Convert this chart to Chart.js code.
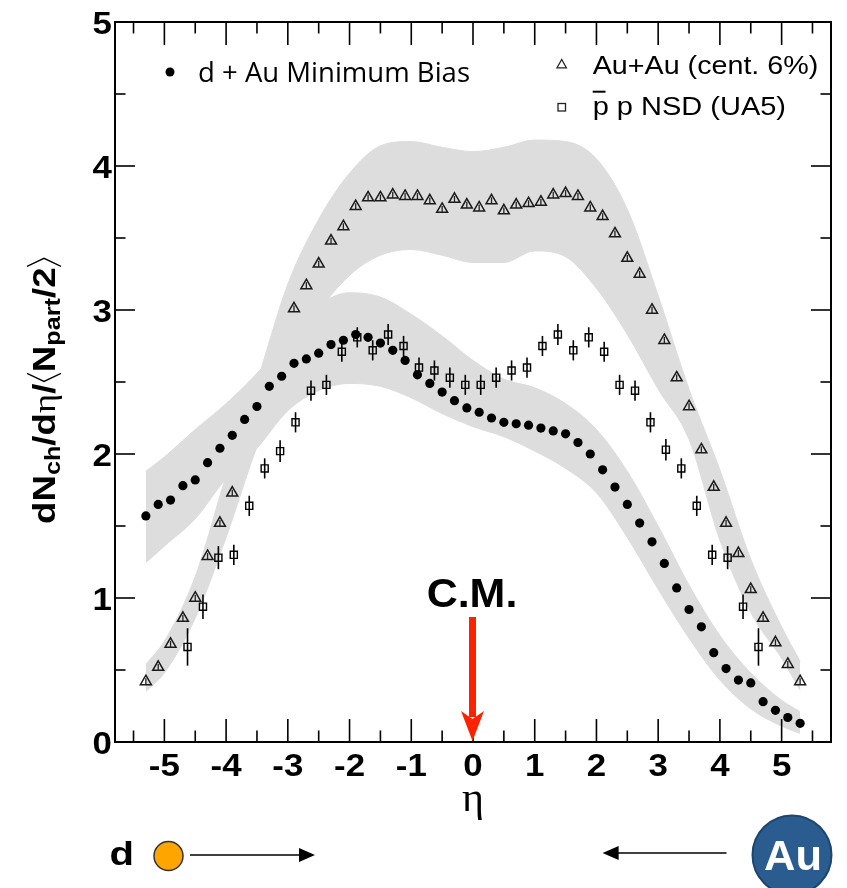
<!DOCTYPE html>
<html>
<head>
<meta charset="utf-8">
<title>dNch/deta per participant pair</title>
<script src="https://cdn.jsdelivr.net/npm/chart.js@4.4.0/dist/chart.umd.min.js"></script>
<style>
  html, body { margin: 0; padding: 0; background: #fff; }
  #wrap { width: 847px; height: 888px; }
</style>
</head>
<body>
<div id="wrap"><canvas id="c" width="847" height="888"></canvas></div>
<script>
// axis ticks
const etaTicks = [-5, -4, -3, -2, -1, 0, 1, 2, 3, 4, 5];
const etaMinor = [-5.5, -4.5, -3.5, -2.5, -1.5, -0.5, 0.5, 1.5, 2.5, 3.5, 4.5, 5.5];
const yTicks = [0, 1, 2, 3, 4, 5];
const yMinor = [0.5, 1.5, 2.5, 3.5, 4.5];

// d+Au minimum bias and Au+Au 6% share the same eta bins
const etaBins = [-5.3, -5.1, -4.9, -4.7, -4.5, -4.3, -4.1, -3.9, -3.7, -3.5, -3.3, -3.1, -2.9, -2.7,
  -2.5, -2.3, -2.1, -1.9, -1.7, -1.5, -1.3, -1.1, -0.9, -0.7, -0.5, -0.3, -0.1, 0.1, 0.3, 0.5, 0.7,
  0.9, 1.1, 1.3, 1.5, 1.7, 1.9, 2.1, 2.3, 2.5, 2.7, 2.9, 3.1, 3.3, 3.5, 3.7, 3.9, 4.1, 4.3, 4.5,
  4.7, 4.9, 5.1, 5.3];
const dAuVals = [1.57, 1.65, 1.68, 1.78, 1.82, 1.94, 2.04, 2.13, 2.24, 2.33, 2.47, 2.54, 2.63, 2.66,
  2.70, 2.76, 2.79, 2.83, 2.81, 2.77, 2.72, 2.65, 2.55, 2.49, 2.43, 2.37, 2.32, 2.29, 2.25, 2.22, 2.21,
  2.20, 2.18, 2.16, 2.14, 2.08, 2.00, 1.89, 1.77, 1.65, 1.52, 1.39, 1.24, 1.07, 0.92, 0.80, 0.62, 0.51,
  0.43, 0.41, 0.28, 0.22, 0.17, 0.13];
const auAuVals = [0.42, 0.52, 0.68, 0.86, 1.00, 1.29, 1.52, 1.73, null, null, null, null, 3.01, 3.17,
  3.32, 3.48, 3.58, 3.72, 3.78, 3.78, 3.80, 3.79, 3.79, 3.76, 3.70, 3.77, 3.73, 3.71, 3.76, 3.69, 3.73,
  3.74, 3.75, 3.80, 3.81, 3.79, 3.71, 3.65, 3.53, 3.36, 3.25, 3.00, 2.79, 2.53, 2.33, 2.03, 1.77, 1.52,
  1.31, 1.06, 0.86, 0.69, 0.54, 0.42];
const auAuErr = 0.022;

// UA5 pbar-p NSD
const ua5Eta = [-4.625, -4.375, -4.125, -3.875, -3.625, -3.375, -3.125, -2.875, -2.625, -2.375, -2.125,
  -1.875, -1.625, -1.375, -1.125, -0.875, -0.625, -0.375, -0.125, 0.125, 0.375, 0.625, 0.875, 1.125,
  1.375, 1.625, 1.875, 2.125, 2.375, 2.625, 2.875, 3.125, 3.375, 3.625, 3.875, 4.125, 4.375, 4.625];
const ua5Vals = [0.66, 0.94, 1.28, 1.30, 1.64, 1.90, 2.02, 2.22, 2.44, 2.48, 2.71, 2.81, 2.72, 2.83,
  2.75, 2.60, 2.58, 2.53, 2.48, 2.48, 2.53, 2.58, 2.60, 2.75, 2.83, 2.72, 2.81, 2.71, 2.48, 2.44, 2.22,
  2.03, 1.90, 1.64, 1.30, 1.28, 0.94, 0.66];
const ua5Err = [0.13, 0.085, 0.08, 0.07, 0.07, 0.07, 0.075, 0.07, 0.07, 0.07, 0.07, 0.07, 0.07, 0.073,
  0.07, 0.07, 0.07, 0.07, 0.07, 0.07, 0.07, 0.07, 0.07, 0.07, 0.073, 0.07, 0.07, 0.07, 0.07, 0.07, 0.07,
  0.075, 0.07, 0.07, 0.07, 0.08, 0.085, 0.13];

// systematic bands (upper / lower edges)
const bandEta = [-5.3, -5.0, -4.5, -4.0, -3.5, -3.0, -2.5, -2.0, -1.5, -1.0, -0.5, 0, 0.5, 1.0, 1.5,
  2.0, 2.5, 3.0, 3.5, 4.0, 4.5, 5.0, 5.3];
const auAuBandHi = [0.54, 0.70, 1.15, 1.85, 2.50, 3.18, 3.63, 3.95, 4.14, 4.17, 4.13, 4.10, 4.13, 4.18,
  4.17, 4.05, 3.70, 3.10, 2.45, 1.89, 1.27, 0.80, 0.56];
const auAuBandLo = [0.35, 0.48, 0.86, 1.42, 2.05, 2.55, 2.98, 3.24, 3.38, 3.42, 3.38, 3.33, 3.33, 3.41,
  3.37, 3.15, 2.83, 2.45, 2.10, 1.40, 0.90, 0.58, 0.36];
const dAuBandHi = [1.88, 1.98, 2.17, 2.35, 2.56, 2.80, 3.03, 3.12, 3.09, 2.97, 2.82, 2.65, 2.52, 2.46,
  2.35, 2.17, 1.88, 1.50, 1.09, 0.74, 0.48, 0.29, 0.21];
const dAuBandLo = [1.245, 1.36, 1.55, 1.83, 2.04, 2.30, 2.44, 2.49, 2.47, 2.39, 2.28, 2.19, 2.12, 2.02,
  1.90, 1.73, 1.42, 1.06, 0.72, 0.43, 0.23, 0.11, 0.06];

const BAND = 'rgb(221,221,221)';
const SANS = '"Liberation Sans", Arial, sans-serif';

const pts = (xs, ys) => xs.map((x, i) => ({ x, y: ys[i] }));

const bandEdge = (vals, fill) => ({
  data: pts(bandEta, vals), showLine: true, fill: fill, backgroundColor: BAND,
  borderColor: BAND, borderWidth: 1, pointRadius: 0, tension: 0.4,
  cubicInterpolationMode: 'monotone', order: 10
});

function line(ctx, x1, y1, x2, y2) {
  ctx.beginPath(); ctx.moveTo(x1, y1); ctx.lineTo(x2, y2); ctx.stroke();
}

// text with horizontal stretch; if width is given the string is fitted to it
function text(ctx, str, x, y, font, opt) {
  opt = opt || {};
  ctx.save();
  ctx.font = font;
  const w = ctx.measureText(str).width;
  const sx = opt.width ? opt.width / w : (opt.sx || 1);
  ctx.translate(x, y);
  ctx.scale(sx, 1);
  ctx.textAlign = opt.align || 'left';
  ctx.textBaseline = 'alphabetic';
  ctx.fillStyle = opt.color || '#000';
  ctx.fillText(str, 0, 0);
  ctx.restore();
}

const errorBars = [
  { eta: ua5Eta, vals: ua5Vals, err: i => ua5Err[i], width: 1.6, color: '#000' },
  { eta: etaBins, vals: auAuVals, err: () => auAuErr, width: 1.3, color: '#222' }
];

const decor = {
  id: 'decor',
  afterDatasetsDraw(chart) {
    const { ctx, scales: { x, y } } = chart;
    ctx.save();
    errorBars.forEach(s => {
      ctx.strokeStyle = s.color; ctx.lineWidth = s.width;
      s.eta.forEach((e, i) => {
        const v = s.vals[i];
        if (v === null) return;
        const px = x.getPixelForValue(e);
        line(ctx, px, y.getPixelForValue(v - s.err(i)), px, y.getPixelForValue(v + s.err(i)));
      });
    });
    ctx.restore();
  },
  afterDraw(chart) {
    const { ctx, chartArea: a, scales: { x, y } } = chart;
    ctx.save();
    ctx.strokeStyle = '#000';
    ctx.lineWidth = 2;
    ctx.strokeRect(a.left, a.top, a.right - a.left, a.bottom - a.top);

    ctx.lineWidth = 1.6;
    etaTicks.forEach(v => {
      const px = x.getPixelForValue(v);
      line(ctx, px, a.bottom, px, a.bottom - 23);
      line(ctx, px, a.top, px, a.top + 23);
    });
    etaMinor.forEach(v => {
      const px = x.getPixelForValue(v);
      line(ctx, px, a.bottom, px, a.bottom - 11.5);
      line(ctx, px, a.top, px, a.top + 11.5);
    });
    yTicks.forEach(v => {
      const py = y.getPixelForValue(v);
      line(ctx, a.left, py, a.left + 20, py);
      line(ctx, a.right, py, a.right - 20, py);
    });
    yMinor.forEach(v => {
      const py = y.getPixelForValue(v);
      line(ctx, a.left, py, a.left + 10.5, py);
      line(ctx, a.right, py, a.right - 10.5, py);
    });

    // tick labels
    const tickFont = 'bold 32px ' + SANS;
    etaTicks.forEach(v => {
      text(ctx, String(v), x.getPixelForValue(v), a.bottom + 34, tickFont, { sx: 1.09, align: 'center' });
    });
    yTicks.forEach(v => {
      text(ctx, String(v), a.left - 3, y.getPixelForValue(v) + 11.5, tickFont, { sx: 1.09, align: 'right' });
    });

    // x title
    text(ctx, 'η', 473, 811, '42px "Liberation Serif", serif', { align: 'center' });

    // y title, read bottom to top
    ctx.save();
    ctx.translate(43, 390);
    ctx.rotate(-Math.PI / 2);
    const big = 'bold 32px ' + SANS, sub = 'bold 22px ' + SANS;
    const parts = [
      { t: 'dN', f: big }, { t: 'ch', f: sub, dy: 5 }, { t: '/d', f: big },
      { t: 'η', f: '32px "Liberation Serif", serif' }, { t: '/', f: big },
      { t: '<', bracket: true, w: 10 }, { t: 'N', f: big }, { t: 'part', f: sub, dy: 5 },
      { t: '/2', f: big }, { t: '>', bracket: true, w: 10 }
    ];
    let total = 0;
    parts.forEach(p => {
      if (p.bracket) { p.width = p.w; } else { ctx.font = p.f; p.width = ctx.measureText(p.t).width; }
      total += p.width;
    });
    const fit = 268 / total;
    ctx.scale(fit, 1);
    let cx = -total / 2;
    const base = 12;
    ctx.fillStyle = '#000';
    ctx.textBaseline = 'alphabetic';
    parts.forEach(p => {
      if (p.bracket) {
        ctx.lineWidth = 1.3;
        ctx.beginPath();
        if (p.t === '<') {
          ctx.moveTo(cx + p.w - 1, base - 28); ctx.lineTo(cx + 2, base - 11); ctx.lineTo(cx + p.w - 1, base + 6);
        } else {
          ctx.moveTo(cx + 1, base - 28); ctx.lineTo(cx + p.w - 2, base - 11); ctx.lineTo(cx + 1, base + 6);
        }
        ctx.stroke();
      } else {
        ctx.font = p.f;
        ctx.fillText(p.t, cx, base + (p.dy || 0));
      }
      cx += p.width;
    });
    ctx.restore();

    // legend
    ctx.fillStyle = '#000';
    ctx.beginPath(); ctx.arc(170, 72, 4.5, 0, Math.PI * 2); ctx.fill();
    text(ctx, 'd + Au Minimum Bias', 198, 82, '27px "Open Sans", sans-serif', { width: 272 });

    ctx.strokeStyle = '#222'; ctx.lineWidth = 1.3;
    ctx.beginPath();
    ctx.moveTo(561.7, 59.5); ctx.lineTo(566.4, 67.8); ctx.lineTo(557, 67.8); ctx.closePath();
    ctx.stroke();
    ctx.strokeRect(558, 103.5, 7.5, 7.5);
    text(ctx, 'Au+Au (cent. 6%)', 592.7, 74.3, '26px ' + SANS, { width: 225.6 });
    text(ctx, 'p p NSD (UA5)', 592.7, 115, '26px ' + SANS, { width: 193.3 });
    ctx.lineWidth = 2; ctx.strokeStyle = '#000';
    line(ctx, 592.7, 91.7, 605.5, 91.7);

    // centre of mass marker
    text(ctx, 'C.M.', 472, 607, 'bold 40px ' + SANS, { width: 90.7, align: 'center' });
    ctx.fillStyle = '#ff2200';
    ctx.fillRect(469, 617, 7, 100);
    ctx.beginPath();
    ctx.moveTo(472.5, 741); ctx.lineTo(461, 711); ctx.lineTo(472.5, 719); ctx.lineTo(484, 711);
    ctx.closePath(); ctx.fill();

    // beam direction sketch
    text(ctx, 'd', 109.5, 865, 'bold 34px ' + SANS, { width: 24.5 });
    ctx.beginPath(); ctx.arc(168.5, 856, 14.5, 0, Math.PI * 2);
    ctx.fillStyle = '#ffa500'; ctx.fill();
    ctx.strokeStyle = '#333'; ctx.lineWidth = 1.5; ctx.stroke();

    ctx.strokeStyle = '#000'; ctx.fillStyle = '#000'; ctx.lineWidth = 1.5;
    line(ctx, 190, 855, 302, 855);
    ctx.beginPath(); ctx.moveTo(315, 855); ctx.lineTo(299, 848); ctx.lineTo(299, 862); ctx.closePath(); ctx.fill();
    line(ctx, 615, 853, 726.5, 853);
    ctx.beginPath(); ctx.moveTo(602.6, 853); ctx.lineTo(618.6, 846); ctx.lineTo(618.6, 860); ctx.closePath(); ctx.fill();

    ctx.beginPath(); ctx.arc(792, 855, 39.5, 0, Math.PI * 2);
    ctx.fillStyle = '#2b5c8f'; ctx.fill();
    ctx.strokeStyle = '#1e4470'; ctx.lineWidth = 2; ctx.stroke();
    text(ctx, 'Au', 793, 870, 'bold 42px ' + SANS, { width: 58, align: 'center', color: '#fff' });

    ctx.restore();
  }
};

new Chart(document.getElementById('c'), {
  type: 'line',
  data: {
    datasets: [
      bandEdge(auAuBandHi, false),
      bandEdge(auAuBandLo, '-1'),
      bandEdge(dAuBandHi, false),
      bandEdge(dAuBandLo, '-1'),
      {
        label: 'p p NSD (UA5)', data: pts(ua5Eta, ua5Vals), showLine: false, pointStyle: 'rect',
        pointRadius: 5, pointBackgroundColor: 'rgba(0,0,0,0)', pointBorderColor: '#000',
        pointBorderWidth: 1.4, order: 2
      },
      {
        label: 'Au+Au (cent. 6%)', data: pts(etaBins, auAuVals), showLine: false, pointStyle: 'triangle',
        pointRadius: 6.3, pointBackgroundColor: 'rgba(0,0,0,0)', pointBorderColor: '#1a1a1a',
        pointBorderWidth: 1.5, order: 1
      },
      {
        label: 'd + Au Minimum Bias', data: pts(etaBins, dAuVals), showLine: false, pointStyle: 'circle',
        pointRadius: 4.6, pointBackgroundColor: '#000', pointBorderWidth: 0, order: 0
      }
    ]
  },
  options: {
    responsive: false,
    devicePixelRatio: 1,
    animation: false,
    layout: { padding: { left: 115, right: 16, top: 22, bottom: 146 } },
    plugins: { legend: { display: false }, tooltip: { enabled: false } },
    scales: {
      x: { type: 'linear', min: -5.8, max: 5.8, display: false },
      y: { type: 'linear', min: 0, max: 5, display: false }
    }
  },
  plugins: [decor]
});
</script>
</body>
</html>
